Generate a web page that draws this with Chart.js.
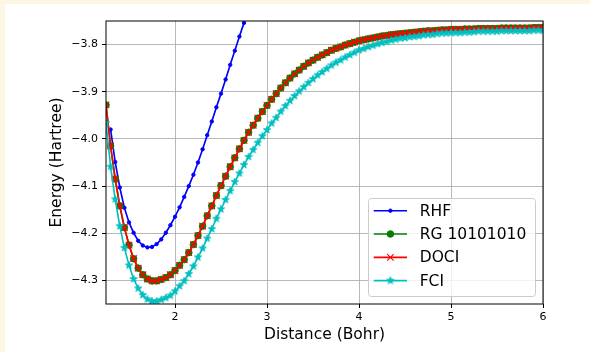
<!DOCTYPE html>
<html>
<head>
<meta charset="utf-8">
<script src="https://cdn.jsdelivr.net/npm/chart.js@4/dist/chart.umd.min.js"></script>
<style>
  html, body { margin: 0; padding: 0; background: #fdf6e3; }
  #wrap { position: absolute; left: 5px; top: 4px; width: 585px; height: 348px; background: #fff; }
</style>
</head>
<body>
<div id="wrap"><canvas id="pes" width="585" height="348"></canvas></div>
<script>
// Bond distance grid (Bohr)
const distances = [
    1.25, 1.30, 1.35, 1.40, 1.45, 1.50, 1.55, 1.60, 1.65, 1.70,
    1.75, 1.80, 1.85, 1.90, 1.95, 2.00, 2.05, 2.10, 2.15, 2.20,
    2.25, 2.30, 2.35, 2.40, 2.45, 2.50, 2.55, 2.60, 2.65, 2.70,
    2.75, 2.80, 2.85, 2.90, 2.95, 3.00, 3.05, 3.10, 3.15, 3.20,
    3.25, 3.30, 3.35, 3.40, 3.45, 3.50, 3.55, 3.60, 3.65, 3.70,
    3.75, 3.80, 3.85, 3.90, 3.95, 4.00, 4.05, 4.10, 4.15, 4.20,
    4.25, 4.30, 4.35, 4.40, 4.45, 4.50, 4.55, 4.60, 4.65, 4.70,
    4.75, 4.80, 4.85, 4.90, 4.95, 5.00, 5.05, 5.10, 5.15, 5.20,
    5.25, 5.30, 5.35, 5.40, 5.45, 5.50, 5.55, 5.60, 5.65, 5.70,
    5.75, 5.80, 5.85, 5.90, 5.95, 6.00
];

// Energies (Hartree); RHF only up to where it leaves the plot
const rhf = [
    null, -3.980, -4.049, -4.103, -4.146, -4.177, -4.199, -4.216, -4.226, -4.230,
    -4.229, -4.223, -4.213, -4.199, -4.183, -4.165, -4.145, -4.123, -4.100, -4.076,
    -4.050, -4.022, -3.992, -3.963, -3.933, -3.904, -3.874, -3.843, -3.813, -3.783,
    -3.754, -3.726
];

const rg = [
    -3.928, -4.015, -4.085, -4.142, -4.188, -4.225, -4.254, -4.274, -4.288, -4.297,
    -4.301, -4.301, -4.298, -4.294, -4.288, -4.279, -4.268, -4.256, -4.241, -4.224,
    -4.205, -4.185, -4.163, -4.142, -4.120, -4.099, -4.079, -4.059, -4.040, -4.021,
    -4.003, -3.986, -3.971, -3.956, -3.942, -3.929, -3.916, -3.904, -3.892, -3.881,
    -3.871, -3.862, -3.854, -3.846, -3.839, -3.833, -3.827, -3.822, -3.817, -3.812,
    -3.808, -3.805, -3.801, -3.798, -3.795, -3.792, -3.790, -3.788, -3.786, -3.784,
    -3.782, -3.781, -3.779, -3.778, -3.777, -3.776, -3.775, -3.774, -3.773, -3.772,
    -3.771, -3.771, -3.770, -3.769, -3.769, -3.768, -3.768, -3.768, -3.767, -3.767,
    -3.767, -3.766, -3.766, -3.766, -3.766, -3.766, -3.765, -3.765, -3.765, -3.765,
    -3.765, -3.765, -3.765, -3.764, -3.764, -3.764
];

const doci = [
    -3.928, -4.015, -4.085, -4.142, -4.188, -4.225, -4.254, -4.274, -4.288, -4.297,
    -4.301, -4.301, -4.298, -4.294, -4.288, -4.279, -4.268, -4.256, -4.241, -4.224,
    -4.205, -4.185, -4.163, -4.142, -4.120, -4.099, -4.079, -4.059, -4.040, -4.021,
    -4.003, -3.986, -3.971, -3.956, -3.942, -3.929, -3.916, -3.904, -3.892, -3.881,
    -3.871, -3.862, -3.854, -3.846, -3.839, -3.833, -3.827, -3.822, -3.817, -3.812,
    -3.808, -3.805, -3.801, -3.798, -3.795, -3.792, -3.790, -3.788, -3.786, -3.784,
    -3.782, -3.781, -3.779, -3.778, -3.777, -3.776, -3.775, -3.774, -3.773, -3.772,
    -3.771, -3.771, -3.770, -3.769, -3.769, -3.768, -3.768, -3.768, -3.767, -3.767,
    -3.767, -3.766, -3.766, -3.766, -3.766, -3.766, -3.765, -3.765, -3.765, -3.765,
    -3.765, -3.765, -3.765, -3.764, -3.764, -3.764
];

const fci = [
    -3.966, -4.059, -4.128, -4.185, -4.231, -4.268, -4.297, -4.317, -4.331, -4.340,
    -4.344, -4.344, -4.341, -4.337, -4.332, -4.323, -4.312, -4.301, -4.286, -4.270,
    -4.251, -4.232, -4.211, -4.191, -4.169, -4.149, -4.129, -4.110, -4.091, -4.073,
    -4.055, -4.038, -4.023, -4.008, -3.994, -3.981, -3.967, -3.955, -3.942, -3.930,
    -3.919, -3.909, -3.899, -3.890, -3.881, -3.873, -3.865, -3.858, -3.851, -3.844,
    -3.838, -3.833, -3.827, -3.822, -3.817, -3.812, -3.809, -3.805, -3.802, -3.799,
    -3.796, -3.794, -3.791, -3.789, -3.787, -3.786, -3.784, -3.783, -3.782, -3.780,
    -3.779, -3.779, -3.777, -3.776, -3.776, -3.775, -3.775, -3.775, -3.774, -3.774,
    -3.773, -3.772, -3.772, -3.772, -3.772, -3.772, -3.771, -3.771, -3.771, -3.771,
    -3.771, -3.771, -3.771, -3.770, -3.770, -3.770
];

const xTicks = [2, 3, 4, 5, 6];
const yTicks = [-4.3, -4.2, -4.1, -4.0, -3.9, -3.8];

const FONT = '"DejaVu Sans", Verdana, sans-serif';

// filled five-point star marker, used both on the plot and in the legend
function makeStar(color, r) {
    const c = document.createElement('canvas');
    const s = 12;
    c.width = s; c.height = s;
    const g = c.getContext('2d');
    g.translate(s / 2, s / 2);
    g.beginPath();
    for (let i = 0; i < 10; i++) {
        const rr = i % 2 ? r * 0.382 : r;
        const a = -Math.PI / 2 + i * Math.PI / 5;
        g.lineTo(rr * Math.cos(a), rr * Math.sin(a));
    }
    g.closePath();
    g.fillStyle = color;
    g.fill();
    g.strokeStyle = color;
    g.lineWidth = 1.1;
    g.lineJoin = 'round';
    g.stroke();
    return c;
}

const starMarker = makeStar('#00bfbf', 3.6);

function toPoints(values) {
    const pts = [];
    values.forEach((v, i) => {
        if (v !== null && v !== undefined) pts.push({ x: distances[i], y: v });
    });
    return pts;
}

// order: later series are drawn over earlier ones
function series(label, values, color, style, radius, bw, order) {
    return {
        label: label,
        data: toPoints(values),
        order: order,
        borderColor: color,
        backgroundColor: color,
        borderWidth: 1.65,
        pointStyle: style,
        pointRadius: radius,
        pointBorderWidth: bw,
        pointBackgroundColor: color,
        pointBorderColor: color,
        tension: 0,
        clip: 0
    };
}

// top/right/left/bottom spines on top of the curves
const frame = {
    id: 'frame',
    afterDatasetsDraw(chart) {
        const { ctx, chartArea: a } = chart;
        ctx.save();
        ctx.strokeStyle = '#000';
        ctx.lineWidth = 1;
        ctx.strokeRect(a.left, a.top, a.right - a.left, a.bottom - a.top);
        ctx.restore();
    }
};

function drawMarker(ctx, ds, x, y) {
    if (ds.pointStyle === starMarker) {
        ctx.drawImage(starMarker, x - starMarker.width / 2, y - starMarker.height / 2);
        return;
    }
    ctx.fillStyle = ds.pointBackgroundColor;
    ctx.strokeStyle = ds.pointBorderColor;
    ctx.lineWidth = ds.pointBorderWidth;
    ctx.beginPath();
    if (ds.pointStyle === 'crossRot') {
        const d = ds.pointRadius * Math.SQRT1_2;
        ctx.moveTo(x - d, y - d); ctx.lineTo(x + d, y + d);
        ctx.moveTo(x - d, y + d); ctx.lineTo(x + d, y - d);
        ctx.stroke();
    } else {
        ctx.arc(x, y, ds.pointRadius, 0, Math.PI * 2);
        ctx.fill();
        ctx.stroke();
    }
}

// legend box in the lower right corner of the axes
const boxLegend = {
    id: 'boxLegend',
    afterDraw(chart) {
        const { ctx, chartArea: a } = chart;
        const w = 167, h = 98;
        const x0 = a.right - 8 - w, y0 = a.bottom - 8 - h;
        ctx.save();
        ctx.beginPath();
        ctx.roundRect(x0 + 0.5, y0 + 0.5, w, h, 3);
        ctx.fillStyle = 'rgba(255,255,255,0.8)';
        ctx.fill();
        ctx.strokeStyle = '#cccccc';
        ctx.lineWidth = 1;
        ctx.stroke();
        chart.data.datasets.forEach((ds, i) => {
            const y = y0 + 12.7 + i * 23.3;
            ctx.strokeStyle = ds.borderColor;
            ctx.lineWidth = ds.borderWidth;
            ctx.beginPath();
            ctx.moveTo(x0 + 5.7, y);
            ctx.lineTo(x0 + 39, y);
            ctx.stroke();
            drawMarker(ctx, ds, x0 + 22.4, y);
            ctx.fillStyle = '#000';
            ctx.font = '15.5px ' + FONT;
            ctx.textBaseline = 'middle';
            ctx.fillText(ds.label, x0 + 51.7, y + 1);
        });
        ctx.restore();
    }
};

const ctx = document.getElementById('pes').getContext('2d');
new Chart(ctx, {
    type: 'line',
    data: {
        datasets: [
            series('RHF', rhf, '#0000ff', 'circle', 1.7, 1, 3),
            series('RG 10101010', rg, '#008000', 'circle', 3.3, 1, 2),
            series('DOCI', doci, '#ff0000', 'crossRot', 4.6, 1.1, 1),
            series('FCI', fci, '#00bfbf', starMarker, 4, 1, 0)
        ]
    },
    options: {
        responsive: false,
        animation: false,
        events: [],
        layout: { padding: { left: 0, top: 17, right: 47, bottom: 0 } },
        plugins: {
            legend: { display: false },
            tooltip: { enabled: false }
        },
        scales: {
            x: {
                type: 'linear',
                min: 1.25,
                max: 6,
                afterBuildTicks: s => { s.ticks = xTicks.map(v => ({ value: v })); },
                afterFit: s => { s.height = 48; },
                grid: { color: '#b0b0b0', lineWidth: 0.9, tickColor: '#000', tickLength: 4, tickWidth: 1 },
                border: { display: false },
                ticks: {
                    color: '#000',
                    font: { family: FONT, size: 11 },
                    padding: 3,
                    maxRotation: 0,
                    callback: v => String(v)
                },
                title: {
                    display: true,
                    text: 'Distance (Bohr)',
                    color: '#000',
                    font: { family: FONT, size: 15.5 },
                    padding: { top: 0, bottom: 8 }
                }
            },
            y: {
                type: 'linear',
                min: -4.35,
                max: -3.75,
                afterBuildTicks: s => { s.ticks = yTicks.map(v => ({ value: v })); },
                afterFit: s => { s.width = 101; },
                grid: { color: '#b0b0b0', lineWidth: 0.9, tickColor: '#000', tickLength: 4, tickWidth: 1 },
                border: { display: false },
                ticks: {
                    color: '#000',
                    font: { family: FONT, size: 11 },
                    padding: 4,
                    callback: v => (v < 0 ? '\u2212' : '') + Math.abs(v).toFixed(1)
                },
                title: {
                    display: true,
                    text: 'Energy (Hartree)',
                    color: '#000',
                    font: { family: FONT, size: 15.5 },
                    padding: { top: 43, bottom: 0 }
                }
            }
        }
    },
    plugins: [frame, boxLegend]
});
</script>
</body>
</html>
